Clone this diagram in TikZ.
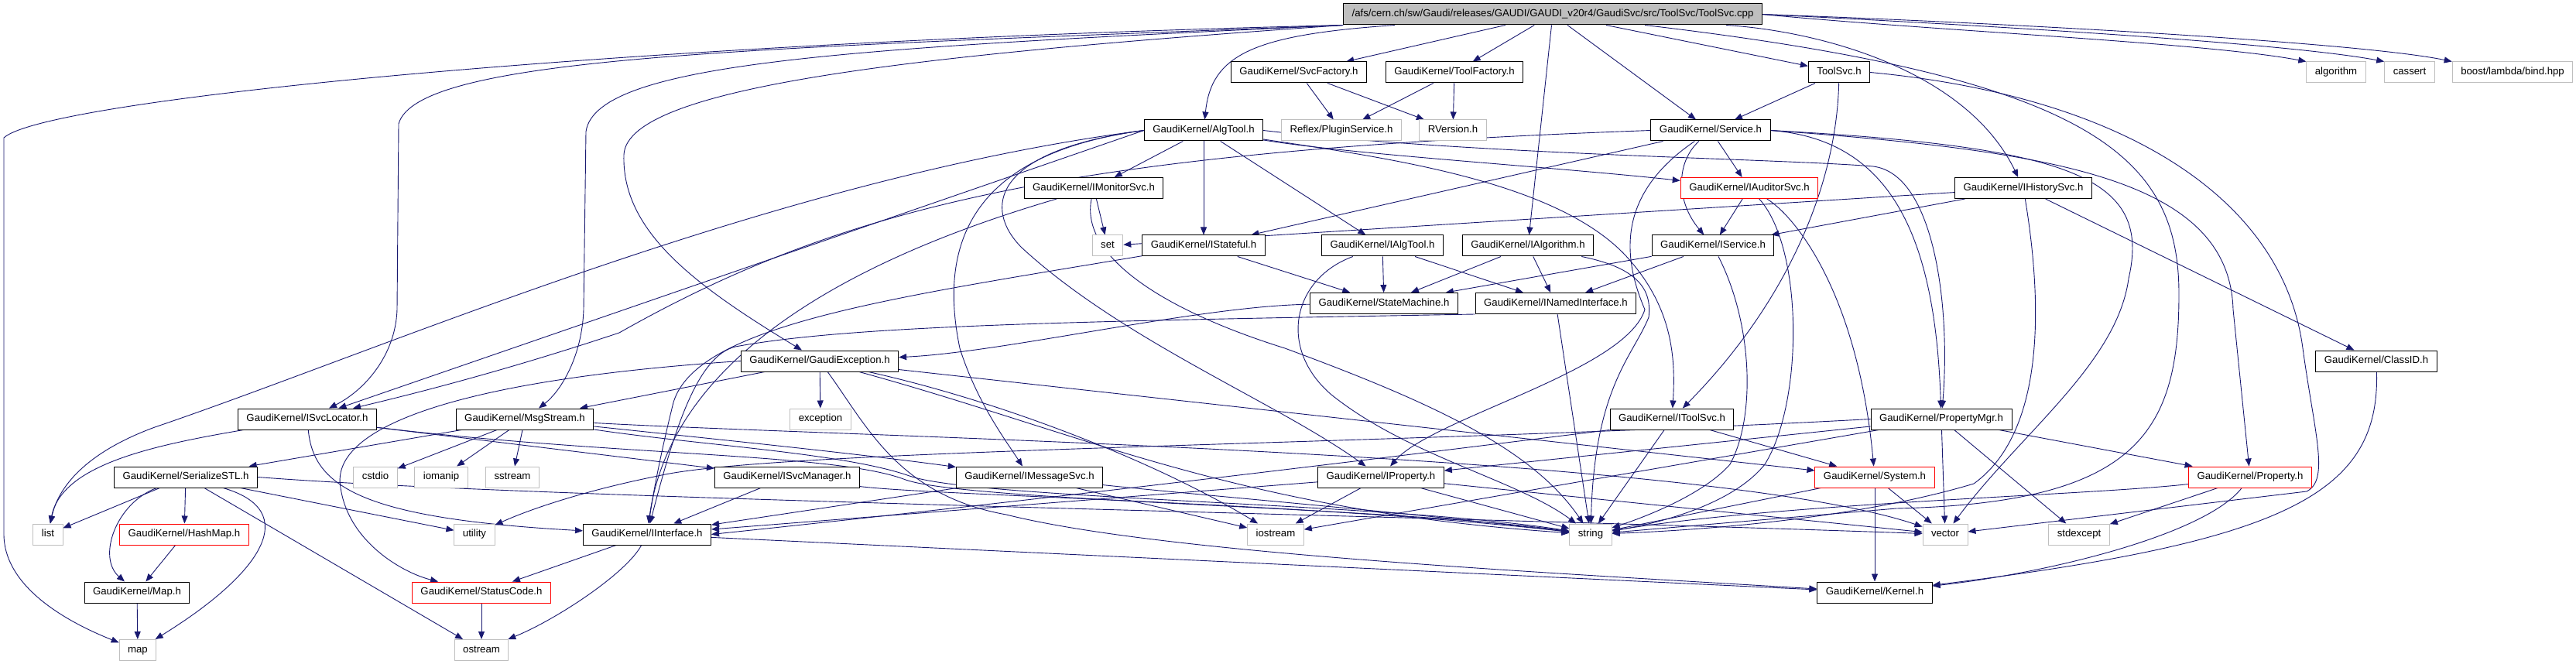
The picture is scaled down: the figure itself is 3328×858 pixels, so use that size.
\documentclass[tikz,border=0pt]{standalone}
\usepackage{fontspec}
\usepackage{tikz}
\usetikzlibrary{arrows.meta,backgrounds}
\newfontfamily\dotfont{Liberation Sans}
\definecolor{edgeblue}{RGB}{25,25,112}
\definecolor{sysgray}{RGB}{191,191,191}

\begin{document}
\begin{tikzpicture}[x=1pt, y=-1pt,
every node/.style = {shape=rectangle, draw, fill=white, line width=1pt,
	font=\dotfont\fontsize{13.2pt}{15pt}\selectfont, minimum height=27pt,
	inner xsep=11pt, inner ysep=0pt, text height=9.6pt, text depth=2.8pt},
sys/.style = {draw=sysgray},
trunc/.style = {draw=red},
inc/.style = {draw=edgeblue, line width=0.9pt, -{Triangle[length=10pt,width=8pt]}}]
	\useasboundingbox (0,0) rectangle (3328,858);
	\node[fill=sysgray] (ToolSvcCpp) at (2006,18.5) {/afs/cern.ch/sw/Gaudi/releases/GAUDI/GAUDI\_v20r4/GaudiSvc/src/ToolSvc/ToolSvc.cpp};
	\node (SvcFactory) at (1678,93.5) {GaudiKernel/SvcFactory.h};
	\node (ToolFactory) at (1879,93.5) {GaudiKernel/ToolFactory.h};
	\node (ToolSvcH) at (2376,93.5) {ToolSvc.h};
	\node[sys] (Algorithm) at (3018,93.5) {algorithm};
	\node[sys] (Cassert) at (3113,93.5) {cassert};
	\node[sys] (BoostBind) at (3246,93.5) {boost/lambda/bind.hpp};
	\node (AlgTool) at (1555,168.5) {GaudiKernel/AlgTool.h};
	\node[sys] (PluginService) at (1733,168.5) {Reflex/PluginService.h};
	\node[sys] (RVersion) at (1877,168.5) {RVersion.h};
	\node (Service) at (2210,168.5) {GaudiKernel/Service.h};
	\node (IMonitorSvc) at (1413,243) {GaudiKernel/IMonitorSvc.h};
	\node[trunc] (IAuditorSvc) at (2260,243) {GaudiKernel/IAuditorSvc.h};
	\node (IHistorySvc) at (2614,243) {GaudiKernel/IHistorySvc.h};
	\node[sys] (Set) at (1431,317.5) {set};
	\node (IStateful) at (1555,317.5) {GaudiKernel/IStateful.h};
	\node (IAlgTool) at (1786,317.5) {GaudiKernel/IAlgTool.h};
	\node (IAlgorithm) at (1974,317.5) {GaudiKernel/IAlgorithm.h};
	\node (IService) at (2213,317.5) {GaudiKernel/IService.h};
	\node (StateMachine) at (1788,392) {GaudiKernel/StateMachine.h};
	\node (INamedInterface) at (2010,392) {GaudiKernel/INamedInterface.h};
	\node (GaudiException) at (1059,466.5) {GaudiKernel/GaudiException.h};
	\node (ClassID) at (3070,466.5) {GaudiKernel/ClassID.h};
	\node (ISvcLocator) at (397,541.5) {GaudiKernel/ISvcLocator.h};
	\node (MsgStream) at (678,541.5) {GaudiKernel/MsgStream.h};
	\node[sys] (Exception) at (1060,541.5) {exception};
	\node (IToolSvc) at (2160,541.5) {GaudiKernel/IToolSvc.h};
	\node (PropertyMgr) at (2508,541.5) {GaudiKernel/PropertyMgr.h};
	\node (SerializeSTL) at (240,616.5) {GaudiKernel/SerializeSTL.h};
	\node[sys] (Cstdio) at (485,616.5) {cstdio};
	\node[sys] (Iomanip) at (570,616.5) {iomanip};
	\node[sys] (Sstream) at (662,616.5) {sstream};
	\node (ISvcManager) at (1017,616.5) {GaudiKernel/ISvcManager.h};
	\node (IMessageSvc) at (1330,616.5) {GaudiKernel/IMessageSvc.h};
	\node (IProperty) at (1784,616.5) {GaudiKernel/IProperty.h};
	\node[trunc] (System) at (2422,616.5) {GaudiKernel/System.h};
	\node[trunc] (Property) at (2907,616.5) {GaudiKernel/Property.h};
	\node[sys] (List) at (62,690.5) {list};
	\node[trunc] (HashMap) at (238,690.5) {GaudiKernel/HashMap.h};
	\node[sys] (Utility) at (613,690.5) {utility};
	\node (IInterface) at (836,690.5) {GaudiKernel/IInterface.h};
	\node[sys] (Iostream) at (1648,690.5) {iostream};
	\node[sys] (String) at (2055,690.5) {string};
	\node[sys] (Vector) at (2513,690.5) {vector};
	\node[sys] (Stdexcept) at (2686,690.5) {stdexcept};
	\node (MapH) at (177,765.5) {GaudiKernel/Map.h};
	\node[trunc] (StatusCode) at (622,765.5) {GaudiKernel/StatusCode.h};
	\node (Kernel) at (2422,765.5) {GaudiKernel/Kernel.h};
	\node[sys] (StdMap) at (178,840) {map};
	\node[sys] (Ostream) at (622,840) {ostream};
	\begin{pgfonlayer}{background}
	\fill[white] (0,0) rectangle (3328,858);
	% includes of ToolSvc.cpp
	\draw[inc] (ToolSvcCpp) -- (SvcFactory);
	\draw[inc] (ToolSvcCpp) -- (ToolFactory);
	\draw[inc] (ToolSvcCpp) .. controls (1620,45) and (1565,70) .. (AlgTool);
	\draw[inc] (ToolSvcCpp) -- (IAlgorithm);
	\draw[inc] (ToolSvcCpp) -- (Service);
	\draw[inc] (ToolSvcCpp) -- (ToolSvcH);
	\draw[inc] (ToolSvcCpp.east) .. controls (2500,40) and (2850,55) .. (Algorithm.north west);
	\draw[inc] (ToolSvcCpp.east) .. controls (2550,32) and (2950,55) .. (Cassert.north west);
	\draw[inc] (ToolSvcCpp.east) .. controls (2600,30) and (3050,55) .. (BoostBind.north west);
	\draw[inc] (ToolSvcCpp) .. controls (2350,40) and (2540,90) .. (IHistorySvc);
	\draw[inc] (ToolSvcCpp) .. controls (2700,100) and (2815,200) .. (2815,380) .. controls (2815,560) and (2760,650) .. (2450,657) -- (String);
	\draw[inc] (ToolSvcCpp.south west) .. controls (800,55) and (60,128) .. (5,178) -- (5,690) .. controls (5,760) and (90,805) .. (StdMap);
	\draw[inc] (ToolSvcCpp.south west) .. controls (1000,62) and (540,70) .. (515,160) -- (513,400) .. controls (511,460) and (470,505) .. (ISvcLocator);
	\draw[inc] (ToolSvcCpp.south west) .. controls (1100,62) and (770,80) .. (757,170) -- (754,400) .. controls (752,460) and (725,505) .. (MsgStream);
	\draw[inc] (ToolSvcCpp.south west) .. controls (1200,70) and (810,110) .. (806,200) .. controls (803,300) and (900,370) .. (GaudiException);
	\draw[inc] (SvcFactory) -- (PluginService);
	\draw[inc] (SvcFactory) -- (RVersion);
	\draw[inc] (ToolFactory) -- (PluginService);
	\draw[inc] (ToolFactory) -- (RVersion);
	\draw[inc] (ToolSvcH) -- (Service);
	\draw[inc] (ToolSvcH) .. controls (2372,250) and (2300,400) .. (IToolSvc);
	\draw[inc] (ToolSvcH.east) .. controls (2750,125) and (2950,260) .. (2975,450) .. controls (2990,560) and (3010,620) .. (2980,635) -- (Vector);
	% AlgTool.h and Service.h
	\draw[inc] (AlgTool) -- (IMonitorSvc);
	\draw[inc] (AlgTool) -- (IStateful);
	\draw[inc] (AlgTool) -- (IAlgTool);
	\draw[inc] (AlgTool) .. controls (1750,200) and (2000,215) .. (IAuditorSvc);
	\draw[inc] (AlgTool) .. controls (1800,205) and (2010,235) .. (2100,330) .. controls (2160,395) and (2165,460) .. (IToolSvc);
	\draw[inc] (AlgTool.east) .. controls (1900,200) and (2300,205) .. (2420,215) .. controls (2500,225) and (2520,400) .. (PropertyMgr);
	\draw[inc] (AlgTool.west) -- (ISvcLocator);
	\draw[inc] (AlgTool.west) .. controls (1000,230) and (500,450) .. (200,552) .. controls (110,585) and (75,630) .. (List);
	\draw[inc] (AlgTool.west) .. controls (1240,200) and (1215,330) .. (1240,450) .. controls (1262,520) and (1300,570) .. (IMessageSvc);
	\draw[inc] (AlgTool.west) .. controls (1280,195) and (1270,270) .. (1320,320) .. controls (1450,440) and (1650,520) .. (IProperty);
	\draw[inc] (Service) .. controls (2165,210) and (2165,260) .. (IService);
	\draw[inc] (Service) -- (IAuditorSvc);
	\draw[inc] (Service) -- (IStateful);
	\draw[inc] (Service.west) .. controls (1400,195) and (1100,260) .. (800,430) .. controls (650,480) and (530,510) .. (ISvcLocator);
	\draw[inc] (Service.east) .. controls (2440,180) and (2500,300) .. (PropertyMgr);
	\draw[inc] (Service.east) .. controls (2650,195) and (2880,230) .. (2885,400) -- (Property);
	\draw[inc] (Service.east) .. controls (2680,190) and (2780,230) .. (2750,360) .. controls (2735,470) and (2610,560) .. (Vector);
	\draw[inc] (Service) .. controls (2090,250) and (2095,330) .. (2125,400) .. controls (2100,480) and (1850,540) .. (IProperty);
	% interfaces
	\draw[inc] (IMonitorSvc) -- (Set);
	\draw[inc] (IMonitorSvc) .. controls (1395,330) and (1500,400) .. (1660,450) .. controls (1850,520) and (1980,580) .. (String);
	\draw[inc] (IMonitorSvc) .. controls (1150,320) and (870,440) .. (IInterface);
	\draw[inc] (IStateful) -- (StateMachine);
	\draw[inc] (IStateful) .. controls (1150,385) and (900,420) .. (870,520) .. controls (855,580) and (845,630) .. (IInterface);
	\draw[inc] (IAlgTool) -- (StateMachine);
	\draw[inc] (IAlgTool) -- (INamedInterface);
	\draw[inc] (IAlgTool) .. controls (1670,360) and (1650,450) .. (1720,510) .. controls (1820,590) and (1960,620) .. (String);
	\draw[inc] (IAlgorithm) -- (StateMachine);
	\draw[inc] (IAlgorithm) -- (INamedInterface);
	\draw[inc] (IAlgorithm) .. controls (2110,345) and (2135,370) .. (2130,410) .. controls (2110,460) and (2060,500) .. (String);
	\draw[inc] (IService) -- (StateMachine);
	\draw[inc] (IService) -- (INamedInterface);
	\draw[inc] (IService) .. controls (2265,420) and (2268,540) .. (2235,600) .. controls (2200,640) and (2120,670) .. (String);
	\draw[inc] (IAuditorSvc) -- (IService);
	\draw[inc] (IAuditorSvc) .. controls (2320,280) and (2400,380) .. (System);
	\draw[inc] (IAuditorSvc) .. controls (2330,320) and (2330,520) .. (2280,600) .. controls (2240,650) and (2150,675) .. (String);
	\draw[inc] (IHistorySvc) -- (Set);
	\draw[inc] (IHistorySvc) -- (IService);
	\draw[inc] (IHistorySvc) -- (ClassID);
	\draw[inc] (IHistorySvc) .. controls (2640,400) and (2640,560) .. (2550,625) .. controls (2400,670) and (2200,685) .. (String);
	\draw[inc] (ClassID) .. controls (3075,640) and (2950,700) .. (Kernel);
	\draw[inc] (StateMachine) .. controls (1550,395) and (1300,455) .. (GaudiException);
	\draw[inc] (INamedInterface.south west) .. controls (1400,415) and (1100,420) .. (950,448) .. controls (900,460) and (870,560) .. (IInterface);
	\draw[inc] (INamedInterface) -- (String);
	\draw[inc] (GaudiException) -- (Exception);
	\draw[inc] (GaudiException) -- (MsgStream);
	\draw[inc] (GaudiException.west) .. controls (600,490) and (425,550) .. (440,630) .. controls (450,700) and (520,740) .. (StatusCode);
	\draw[inc] (GaudiException) -- (System);
	\draw[inc] (GaudiException) .. controls (1300,520) and (1500,600) .. (Iostream);
	\draw[inc] (GaudiException) .. controls (1400,560) and (1600,660) .. (String);
	\draw[inc] (GaudiException) .. controls (1120,550) and (1160,640) .. (1300,665) .. controls (1500,715) and (2000,740) .. (Kernel);
	\draw[inc] (ISvcLocator) .. controls (200,575) and (80,600) .. (List);
	\draw[inc] (ISvcLocator) .. controls (405,630) and (470,670) .. (IInterface);
	\draw[inc] (ISvcLocator) -- (ISvcManager);
	\draw[inc] (ISvcLocator) .. controls (800,590) and (1080,585) .. (1170,620) .. controls (1250,648) and (1800,655) .. (String);
	\draw[inc] (MsgStream) -- (SerializeSTL);
	\draw[inc] (MsgStream) -- (Cstdio);
	\draw[inc] (MsgStream) -- (Iomanip);
	\draw[inc] (MsgStream) -- (Sstream);
	\draw[inc] (MsgStream) .. controls (900,565) and (1100,585) .. (IMessageSvc);
	\draw[inc] (MsgStream) .. controls (900,575) and (1090,585) .. (1175,615) .. controls (1260,645) and (1800,650) .. (String);
	\draw[inc] (MsgStream) .. controls (1100,565) and (2200,585) .. (Vector);
	\draw[inc] (SerializeSTL) -- (List);
	\draw[inc] (SerializeSTL) -- (HashMap);
	\draw[inc] (SerializeSTL) .. controls (150,650) and (125,720) .. (MapH);
	\draw[inc] (SerializeSTL) .. controls (390,660) and (340,740) .. (StdMap);
	\draw[inc] (SerializeSTL) -- (Ostream);
	\draw[inc] (SerializeSTL) -- (Utility);
	\draw[inc] (SerializeSTL.east) .. controls (700,645) and (1800,665) .. (Vector);
	\draw[inc] (HashMap) -- (MapH);
	\draw[inc] (MapH) -- (StdMap);
	\draw[inc] (StatusCode) -- (Ostream);
	\draw[inc] (ISvcManager) -- (IInterface);
	\draw[inc] (ISvcManager) .. controls (1200,640) and (1700,650) .. (String);
	\draw[inc] (IMessageSvc) -- (IInterface);
	\draw[inc] (IMessageSvc) -- (Iostream);
	\draw[inc] (IMessageSvc) .. controls (1550,640) and (1800,660) .. (String);
	\draw[inc] (IProperty) -- (IInterface);
	\draw[inc] (IProperty) -- (Iostream);
	\draw[inc] (IProperty) -- (String);
	\draw[inc] (IProperty) -- (Vector);
	\draw[inc] (IToolSvc.south west) .. controls (1800,590) and (1400,640) .. (IInterface.east);
	\draw[inc] (IToolSvc) -- (String);
	\draw[inc] (IToolSvc) -- (System);
	\draw[inc] (PropertyMgr) -- (IProperty);
	\draw[inc] (PropertyMgr) -- (Iostream);
	\draw[inc] (PropertyMgr) -- (Vector);
	\draw[inc] (PropertyMgr) -- (Stdexcept);
	\draw[inc] (PropertyMgr) -- (Property);
	\draw[inc] (PropertyMgr.west) .. controls (1800,575) and (1000,580) .. (850,615) .. controls (750,635) and (680,660) .. (Utility);
	\draw[inc] (System) -- (Kernel);
	\draw[inc] (System) -- (String);
	\draw[inc] (System) -- (Vector);
	\draw[inc] (Property) .. controls (2850,690) and (2650,740) .. (Kernel);
	\draw[inc] (Property) .. controls (2700,640) and (2300,650) .. (String);
	\draw[inc] (Property) -- (Stdexcept);
	\draw[inc] (IInterface) -- (StatusCode);
	\draw[inc] (IInterface) .. controls (810,740) and (720,800) .. (Ostream);
	\draw[inc] (IInterface) -- (Kernel);
	\end{pgfonlayer}
\end{tikzpicture}
\end{document}
